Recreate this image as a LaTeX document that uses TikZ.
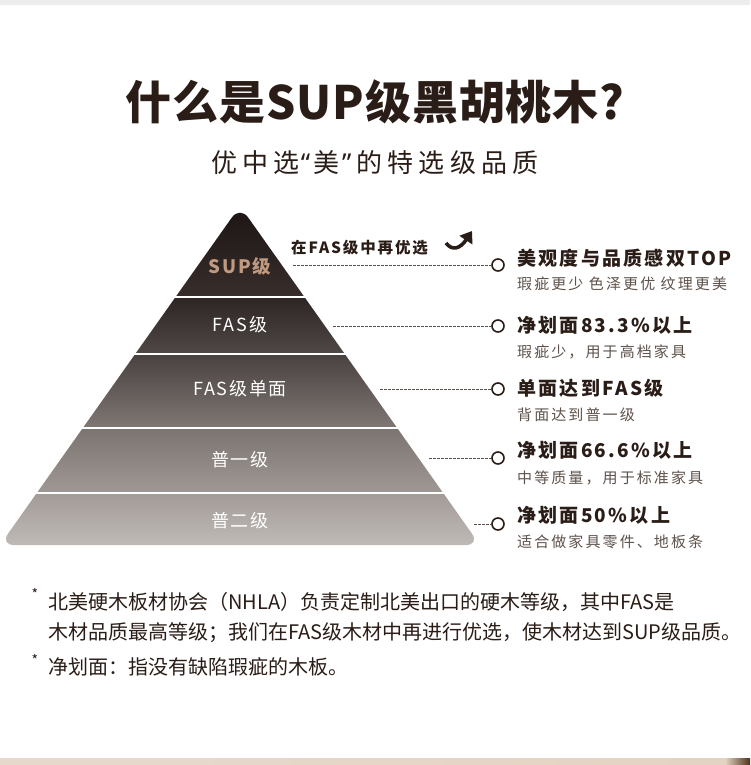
\documentclass[tikz,border=0pt]{standalone}
\usepackage{fontspec}
\usepackage{tikz}
\setmainfont{Noto Sans CJK SC}
\newfontfamily\titlefont[LetterSpace=2]{Noto Sans CJK SC}
\newfontfamily\subtitlefont[LetterSpace=20]{Noto Sans CJK SC}
\newfontfamily\quotefont{Noto Sans}
\newfontfamily\tierfont[LetterSpace=10]{Noto Sans CJK SC}
\newfontfamily\headfont[LetterSpace=12]{Noto Sans CJK SC}
\newfontfamily\subfont[LetterSpace=14]{Noto Sans CJK SC}
\newfontfamily\notefont{Noto Sans CJK SC}
\usetikzlibrary{arrows.meta}
\usetikzlibrary{positioning}
\definecolor{ink}{HTML}{2A1D17}
\definecolor{subgray}{HTML}{5E524C}
\definecolor{dotgray}{HTML}{5A4E48}
\definecolor{suptan}{HTML}{C09A80}
\definecolor{tierAa}{HTML}{1A1311}
\definecolor{tierAb}{HTML}{372E2C}
\definecolor{tierBa}{HTML}{2E2624}
\definecolor{tierBb}{HTML}{4F4745}
\definecolor{tierCa}{HTML}{4A4240}
\definecolor{tierCb}{HTML}{7D7673}
\definecolor{tierDa}{HTML}{7B7471}
\definecolor{tierDb}{HTML}{9E9794}
\definecolor{tierEa}{HTML}{A29B98}
\definecolor{tierEb}{HTML}{C3BDBA}
\tikzset{tier/.style = {text=white, inner sep=0pt, font=\tierfont\fontsize{18}{20}\selectfont},
         dots/.style = {dash pattern=on 2.5pt off 1.5pt, line width=0.9pt, color=dotgray},
         ring/.style = {circle, draw=ink, line width=1.6pt, fill=white, minimum size=12pt, inner sep=0pt},
         head/.style = {anchor=west, inner sep=0pt, text=ink, font=\headfont\bfseries\fontsize{19}{21}\selectfont},
         sub/.style = {anchor=west, inner sep=0pt, text=subgray, font=\subfont\fontsize{15}{17}\selectfont},
         note/.style = {anchor=west, inner sep=0pt, text=ink, font=\notefont\fontsize{20}{22}\selectfont},
         star/.style = {inner sep=0pt, text=ink, font=\notefont\fontsize{14}{14}\selectfont}}

\begin{document}
\begin{tikzpicture}[x=1pt, y=-1pt]
  \useasboundingbox (0,0) rectangle (750,765);
  \fill [white] (0,0) rectangle (750,765);
  \fill [black!7] (0,0) rectangle (750,5);
  \shade [left color=black!18!brown!25, right color=black!15!brown!30] (0,758) rectangle (725,765);
  \shade [left color=black!15!brown!30, right color=black!60!brown] (725,758) rectangle (750,765);

  \node [text=ink, font=\titlefont\bfseries\fontsize{46}{50}\selectfont] (title) at (375,102) {什么是SUP级黑胡桃木?};
  \node [text=ink, font=\subtitlefont\fontsize{26}{28}\selectfont] (subtitle) at (375,163) {优中选{\quotefont\hspace{1pt}“\hspace{3pt}}美{\quotefont\hspace{3pt}”\hspace{5pt}}的特选级品质};

  % pyramid
  \begin{scope}
    \clip [rounded corners=14pt] (0,545) -- (240,206) -- (480,545) -- cycle;
    \shade [top color=tierAa, bottom color=tierAb] (0,200) rectangle (480,295);
    \shade [top color=tierBa, bottom color=tierBb] (0,298) rectangle (480,352);
    \shade [top color=tierCa, bottom color=tierCb] (0,355) rectangle (480,426);
    \shade [top color=tierDa, bottom color=tierDb] (0,429) rectangle (480,491);
    \shade [top color=tierEa, bottom color=tierEb] (0,494) rectangle (480,550);
  \end{scope}

  \node [tier, text=suptan, font=\tierfont\bfseries\fontsize{18.5}{20}\selectfont] (sup) at (240,266) {SUP级};
  \node [tier] (fas) at (240,325) {FAS级};
  \node [tier] (fasone) at (240,389) {FAS级单面};
  \node [tier] (one) at (240,460) {普一级};
  \node [tier] (two) at (240,521) {普二级};

  \node [anchor=west, inner sep=0pt, text=ink, font=\headfont\bfseries\fontsize{15.5}{17}\selectfont] (pick) at (291,248) {在FAS级中再优选};
  \coordinate (hookStart) at (446,243);
  \coordinate (hookEnd) at (472,231);
  \draw [ink, line width=3.6pt, -{Triangle[length=11pt, width=15pt]}] (hookStart) .. controls (452,251) and (460,249) .. (hookEnd);

  % connectors
  \coordinate (supEdge) at (293,265);
  \coordinate (fasEdge) at (333,326);
  \coordinate (fasoneEdge) at (380,389);
  \coordinate (oneEdge) at (429,458);
  \coordinate (twoEdge) at (474,524);
  \node [ring] (supRing) at (498,265) {};
  \node [ring] (fasRing) at (498,326) {};
  \node [ring] (fasoneRing) at (498,389) {};
  \node [ring] (oneRing) at (498,458) {};
  \node [ring] (twoRing) at (498,524) {};
  \draw [dots] (supEdge) -- (supRing);
  \draw [dots] (fasEdge) -- (fasRing);
  \draw [dots] (fasoneEdge) -- (fasoneRing);
  \draw [dots] (oneEdge) -- (oneRing);
  \draw [dots] (twoEdge) -- (twoRing);

  % right column
  \node [head] (supHead) at (517,258) {美观度与品质感双TOP};
  \node [sub] (supSub) at (517,284) {瑕疵更少 色泽更优 纹理更美};
  \node [head] (fasHead) at (517,325) {净划面83.3\%以上};
  \node [sub] (fasSub) at (517,352) {瑕疵少，用于高档家具};
  \node [head] (fasoneHead) at (517,388) {单面达到FAS级};
  \node [sub] (fasoneSub) at (517,415) {背面达到普一级};
  \node [head] (oneHead) at (517,450) {净划面66.6\%以上};
  \node [sub] (oneSub) at (517,478) {中等质量，用于标准家具};
  \node [head] (twoHead) at (517,515) {净划面50\%以上};
  \node [sub] (twoSub) at (517,542) {适合做家具零件、地板条};

  % notes
  \node [star] (starA) at (35,594) {*};
  \node [note] (noteA) at (48,602) {北美硬木板材协会（NHLA）负责定制北美出口的硬木等级，其中FAS是};
  \node [note] (noteB) at (48,633) {木材品质最高等级；我们在FAS级木材中再进行优选，使木材达到SUP级品质。};
  \node [star] (starB) at (35,660) {*};
  \node [note] (noteC) at (48,667) {净划面：指没有缺陷瑕疵的木板。};
\end{tikzpicture}
\end{document}
